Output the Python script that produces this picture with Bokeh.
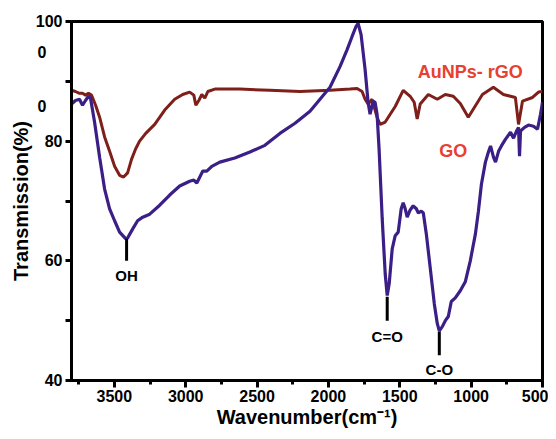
from bokeh.plotting import figure
from bokeh.models import Range1d, FixedTicker, Label
from bokeh.core.properties import value
from bokeh.embed import file_html
from bokeh.resources import INLINE

# GO spectrum
go_wn = [3800, 3772, 3744, 3723, 3702, 3681, 3667, 3639, 3603, 3568, 3533, 3498, 3463, 3421, 3407,
         3372, 3337, 3301, 3252, 3182, 3112, 3042, 2972, 2943, 2922, 2901, 2880, 2852, 2817, 2761,
         2656, 2550, 2445, 2340, 2234, 2129, 2059, 1989, 1918, 1869, 1834, 1806, 1792, 1771, 1743,
         1722, 1708, 1687, 1673, 1659, 1645, 1623, 1602, 1588, 1574, 1553, 1532, 1511, 1490, 1476,
         1462, 1448, 1427, 1406, 1384, 1370, 1349, 1335, 1314, 1286, 1258, 1237, 1223, 1202, 1181,
         1160, 1139, 1111, 1076, 1041, 1006, 970, 949, 928, 900, 879, 864, 843, 829, 808, 788, 760,
         724, 703, 682, 668, 661, 654, 626, 598, 563, 535, 514, 500]
go_t = [86.2, 86.8, 87.0, 86.0, 86.8, 87.5, 87.2, 83.3, 77.3, 72.0, 68.7, 66.7, 64.8, 63.7, 63.8,
        65.3, 66.7, 67.3, 67.8, 69.3, 71.0, 72.5, 73.3, 73.5, 73.0, 74.0, 75.0, 75.0, 75.8, 76.5,
        77.2, 78.2, 79.3, 81.3, 83.0, 85.0, 87.0, 89.0, 92.5, 95.3, 97.5, 99.2, 99.7, 97.8, 92.0,
        86.5, 84.5, 86.7, 86.5, 84.5, 78.7, 67.0, 57.8, 54.2, 56.2, 62.0, 64.2, 64.8, 68.7, 69.7,
        68.7, 67.3, 68.5, 69.2, 68.7, 68.0, 68.3, 68.0, 64.5, 58.7, 52.8, 49.5, 48.3, 49.0, 50.0,
        50.7, 53.2, 53.8, 55.0, 56.5, 60.0, 64.5, 68.3, 72.8, 76.5, 78.2, 79.2, 77.3, 76.5, 78.3,
        79.2, 80.3, 81.5, 80.5, 81.7, 82.3, 77.5, 81.7, 82.3, 82.7, 82.5, 82.0, 84.5, 86.5]

# AuNPs-rGO spectrum
au_wn = [3800, 3772, 3744, 3723, 3702, 3681, 3660, 3631, 3603, 3568, 3533, 3498, 3463, 3435, 3407,
         3379, 3351, 3323, 3280, 3217, 3147, 3077, 3021, 2972, 2943, 2929, 2908, 2887, 2866, 2845,
         2796, 2620, 2410, 2199, 1989, 1848, 1799, 1764, 1743, 1722, 1694, 1659, 1638, 1602, 1532,
         1476, 1427, 1399, 1378, 1357, 1300, 1237, 1181, 1125, 1076, 1020, 921, 844, 774, 690, 668,
         640, 570, 528, 500]
au_t = [88.5, 88.3, 88.0, 88.0, 87.7, 88.0, 87.7, 86.0, 84.0, 80.7, 78.3, 75.8, 74.3, 74.0, 74.7,
        77.0, 78.7, 80.0, 81.3, 82.8, 85.2, 87.0, 87.8, 88.2, 87.7, 86.0, 86.8, 87.8, 87.2, 88.3,
        88.7, 88.7, 88.5, 88.3, 88.5, 88.7, 88.8, 88.3, 87.0, 86.2, 87.0, 84.0, 82.8, 83.2, 85.8,
        88.5, 87.5, 86.5, 83.7, 86.2, 87.8, 87.0, 87.8, 87.5, 86.3, 84.0, 87.8, 89.0, 87.8, 87.3, 82.8,
        86.7, 87.3, 88.2, 88.3]

# band annotations
band_names = ["OH", "C=O", "C-O"]
band_wn = [3414, 1588, 1223]
band_top = [63.7, 54.0, 48.2]
band_bottom = [60.0, 50.0, 44.2]
band_label_y = [57.6, 47.4, 41.9]

x_ticks = [3500, 3000, 2500, 2000, 1500, 1000, 500]
x_minor = [3750, 3250, 2750, 2250, 1750, 1250, 750]
y_ticks = [40, 60, 80, 100]
y_marks = [40, 50, 60, 70, 80, 90, 100]
# stray "0" labels that appear left of the y axis in the original figure
stray_label_y = [85.8, 94.8]

FONT = "Liberation Sans"
RED_TXT = "#e8402f"

p = figure(width=548, height=431, x_range=Range1d(3800, 500), y_range=Range1d(40, 100),
           output_backend="svg", toolbar_location=None,
           min_border_left=71, min_border_right=6, min_border_top=21, min_border_bottom=51)
p.background_fill_color = "white"
p.border_fill_color = "white"
p.grid.visible = False
p.outline_line_color = "black"
p.outline_line_width = 3
p.outline_line_alpha = 1.0

p.xaxis.ticker = FixedTicker(ticks=x_ticks, minor_ticks=x_minor)
p.yaxis.ticker = FixedTicker(ticks=y_ticks + stray_label_y, minor_ticks=y_marks)
for ax in (p.xaxis, p.yaxis):
    ax.axis_line_width = 3
    ax.axis_line_color = "black"
    ax.major_tick_line_width = 3
    ax.minor_tick_line_width = 3
    ax.major_tick_out = 7
    ax.major_tick_in = 0
    ax.minor_tick_out = 4
    ax.minor_tick_in = 0
    ax.major_label_text_font = FONT
    ax.major_label_text_font_style = "bold"
    ax.major_label_text_font_size = "16px"
    ax.major_label_text_color = "black"
    ax.axis_label_text_font = FONT
    ax.axis_label_text_font_style = "bold"
    ax.axis_label_text_font_size = "20px"
    ax.axis_label_text_color = "black"
    ax.major_label_standoff = 2
    ax.axis_label_standoff = 1

# y axis: tick marks drawn by the minor ticker so the stray labels get no tick
p.yaxis.major_tick_line_alpha = 0
p.yaxis.minor_tick_out = 6
p.yaxis.major_label_overrides = {v: "0\u2002\u2002" for v in stray_label_y}

p.xaxis.axis_label = "Wavenumber(cm\u207b\u00b9)"
p.yaxis.axis_label = "Transmission(%)"

p.line(au_wn, au_t, line_color="#7f1f1a", line_width=3)
p.line(go_wn, go_t, line_color="#3b1f86", line_width=3.2)

p.segment(x0=band_wn, y0=band_top, x1=band_wn, y1=band_bottom, line_color="black", line_width=3)
p.text(x=band_wn, y=band_label_y, text=band_names, text_align="center", text_baseline="middle",
       text_font=value(FONT), text_font_style="bold", text_font_size="15px", text_color="black")

p.add_layout(Label(x=1006, y=91.5, text="AuNPs- rGO", text_align="center", text_baseline="middle",
                   text_font=FONT, text_font_style="bold", text_font_size="18px", text_color=RED_TXT))
p.add_layout(Label(x=1125, y=78.3, text="GO", text_align="center", text_baseline="middle",
                   text_font=FONT, text_font_style="bold", text_font_size="18px", text_color=RED_TXT))

open("out.html", "w").write(file_html(p, INLINE))
